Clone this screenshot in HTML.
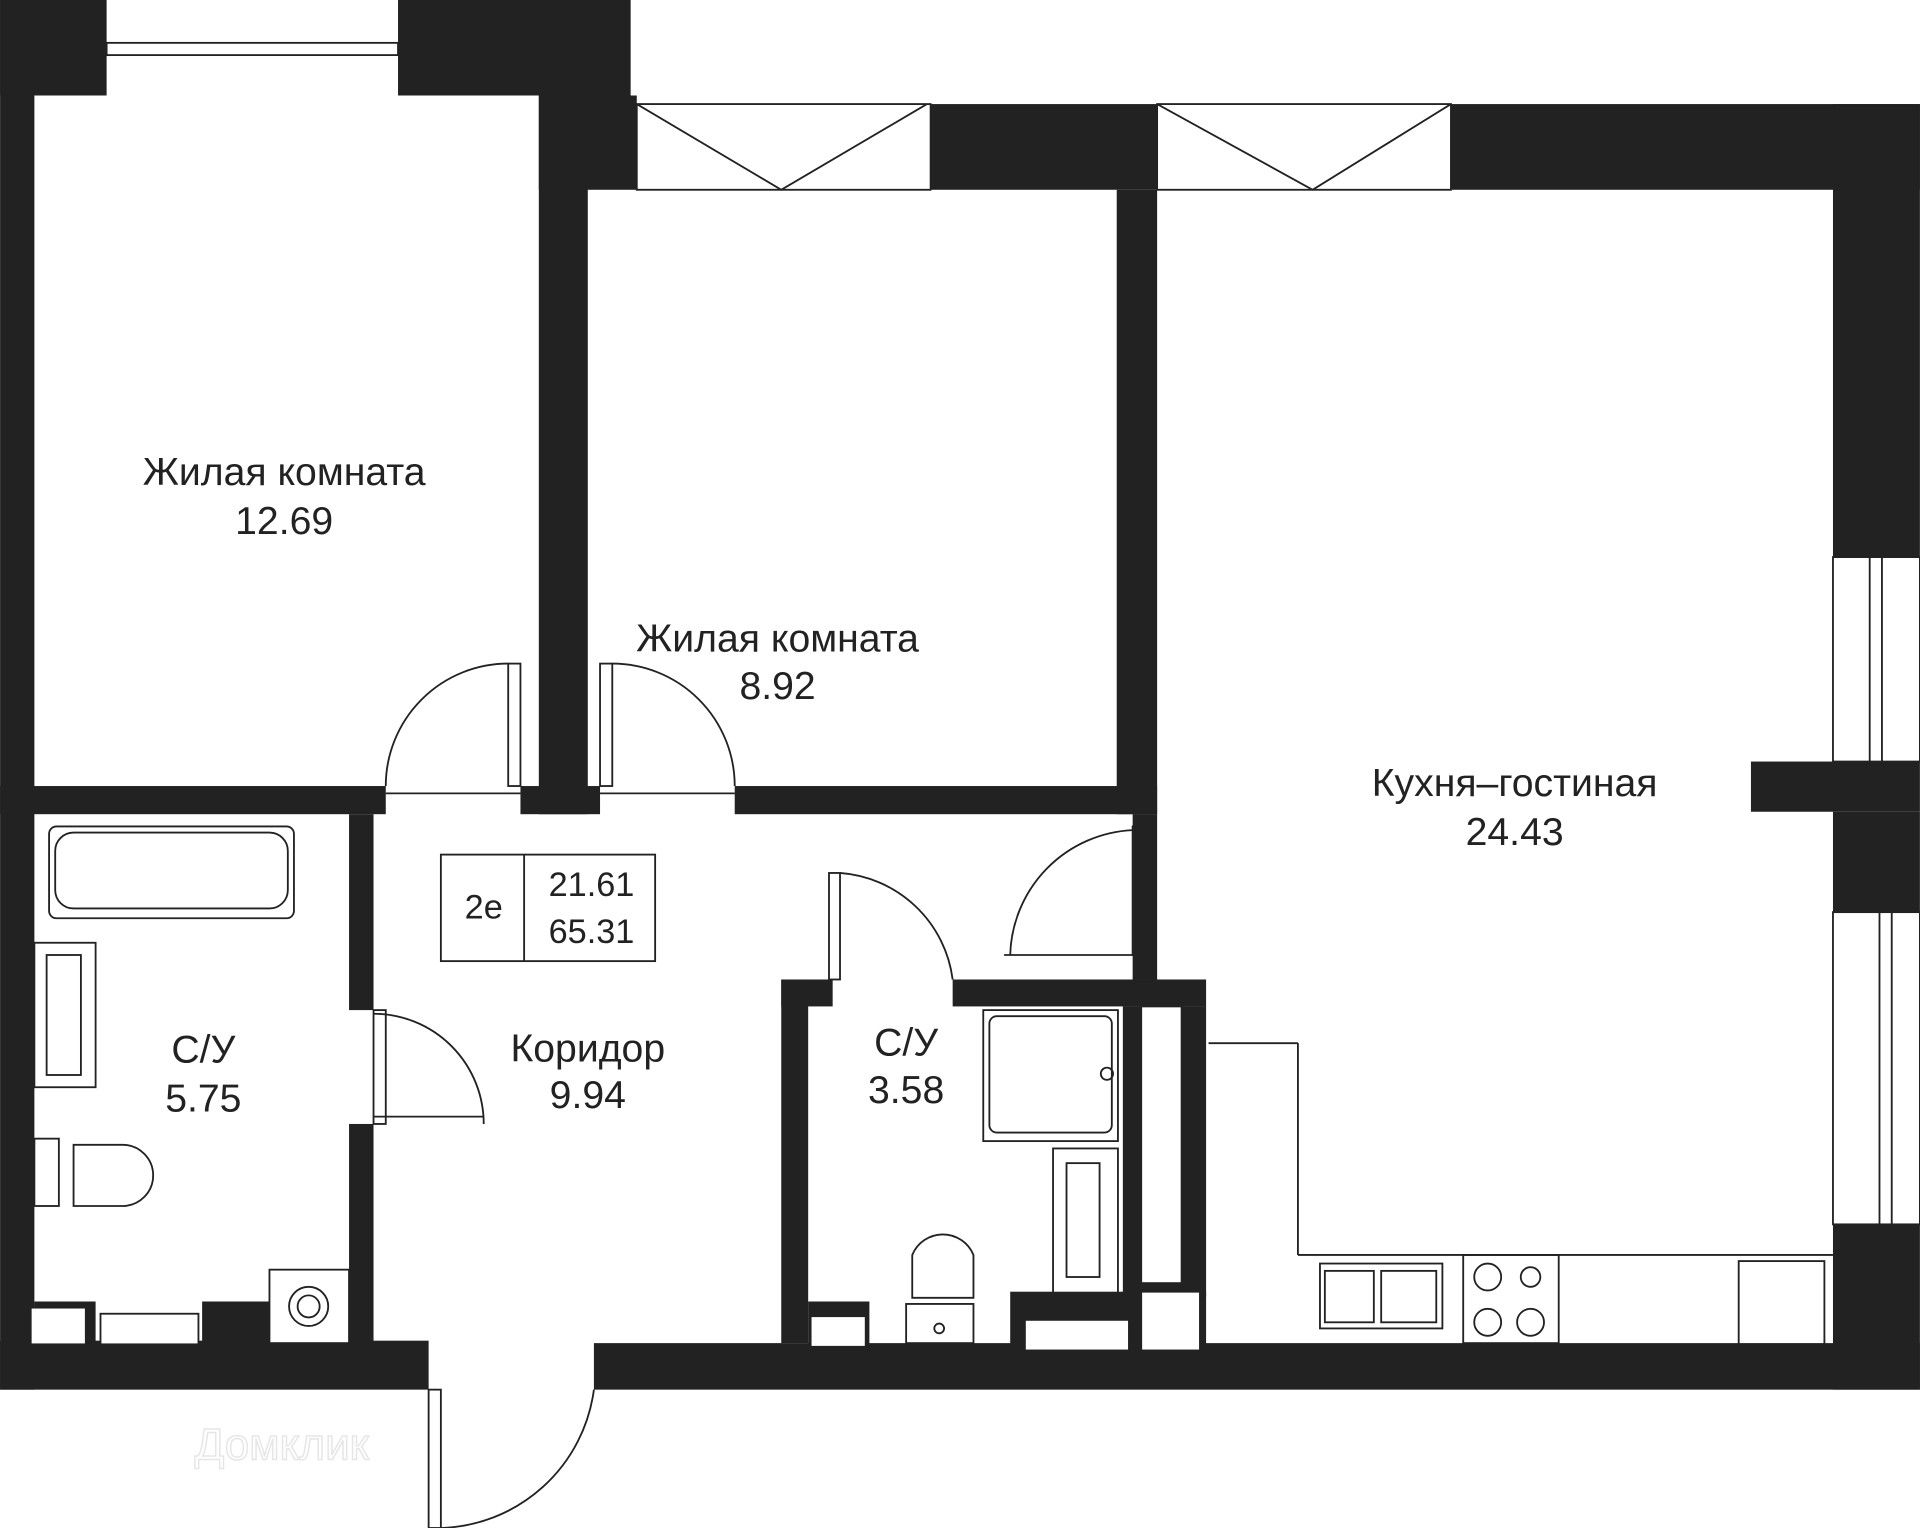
<!DOCTYPE html>
<html><head><meta charset="utf-8"><style>
html,body{margin:0;padding:0;background:#fff;}
svg{display:block;}
text{font-family:"Liberation Sans","DejaVu Sans",sans-serif;fill:#222;font-size:32px;text-anchor:middle;}
</style></head><body>
<svg width="1920" height="1528" viewBox="0 0 1568 1248" xmlns="http://www.w3.org/2000/svg">
<g fill="#222">
<rect x="0" y="0" width="87" height="78"/>
<rect x="325" y="0" width="190" height="78"/>
<rect x="0" y="0" width="28" height="1135"/>
<rect x="440" y="78" width="80" height="77"/>
<rect x="440" y="78" width="40" height="587"/>
<rect x="760" y="85" width="185" height="70"/>
<rect x="1185" y="85" width="383" height="70"/>
<rect x="1497" y="85" width="71" height="370"/>
<rect x="1430" y="622" width="138" height="41"/>
<rect x="1497" y="663" width="71" height="82"/>
<rect x="1497" y="1000" width="71" height="135"/>
<rect x="912" y="155" width="33" height="510"/>
<rect x="925" y="665" width="20" height="135"/>
<rect x="0" y="642" width="315" height="23"/>
<rect x="425" y="642" width="65" height="23"/>
<rect x="600" y="642" width="345" height="23"/>
<rect x="285" y="665" width="20" height="160"/>
<rect x="285" y="918" width="20" height="180"/>
<rect x="0" y="1095" width="350" height="40"/>
<rect x="485" y="1097" width="1083" height="38"/>
<rect x="638" y="800" width="22" height="297"/>
<rect x="638" y="800" width="42" height="22"/>
<rect x="778" y="800" width="207" height="22"/>
<rect x="917" y="822" width="68" height="237"/>
<rect x="825" y="1055" width="160" height="45"/>
<rect x="660" y="1063" width="50" height="35"/>
<rect x="165" y="1063" width="55" height="35"/>
<rect x="28" y="1063" width="50" height="35"/>
</g>
<g fill="#fff" stroke="#222" stroke-width="1.5">
<rect x="932" y="822" width="33" height="226"/>
<rect x="932" y="1055" width="48" height="48"/>
<rect x="837" y="1078" width="85" height="25"/>
<rect x="662" y="1075" width="45" height="25"/>
<rect x="25" y="1068" width="45" height="30"/>
<rect x="82" y="1073" width="80" height="25"/>
<rect x="220" y="1037" width="65" height="60"/>
<rect x="87" y="35" width="238" height="10"/>
<rect x="1497" y="455" width="71" height="167"/>
<rect x="1497" y="745" width="71" height="255"/>
</g>
<g stroke="#222" stroke-width="1.5" fill="none">
<line x1="1527" y1="455" x2="1527" y2="622"/><line x1="1537" y1="455" x2="1537" y2="622"/>
<line x1="1535" y1="745" x2="1535" y2="1000"/><line x1="1545" y1="745" x2="1545" y2="1000"/>
<rect x="520" y="85" width="240" height="70"/><path d="M520 85 L638 155 L757 85"/>
<rect x="945" y="85" width="240" height="70"/><path d="M945 85 L1072 155 L1185 85"/>
<rect x="415" y="542" width="10" height="100"/><path d="M315 642 A100 100 0 0 1 415 542"/><line x1="315" y1="648" x2="425" y2="648"/>
<rect x="490" y="542" width="10" height="100"/><path d="M600 642 A100 100 0 0 0 500 542"/><line x1="490" y1="648" x2="600" y2="648"/>
<rect x="305" y="825" width="10" height="93"/><path d="M395 918 A90 90 0 0 0 305 828"/><line x1="305" y1="912" x2="395" y2="912"/>
<rect x="925" y="675" width="10" height="105"/><path d="M825 780 A105 105 0 0 1 925 678"/><line x1="820" y1="780" x2="925" y2="780"/>
<rect x="677" y="713" width="9" height="87"/><path d="M778 800 A100 100 0 0 0 686 713"/>
<rect x="350" y="1135" width="10" height="113"/><path d="M485 1135 A130 130 0 0 1 360 1248"/>
<rect x="40" y="675" width="200" height="75" rx="6"/><rect x="45" y="680" width="190" height="62" rx="15"/>
<rect x="28" y="770" width="50" height="118"/><rect x="38" y="780" width="28" height="98"/>
<rect x="28" y="930" width="20" height="55"/><path d="M60 935 L100 935 A25 25 0 0 1 100 985 L60 985 Z"/>
<circle cx="252" cy="1067" r="16"/><circle cx="252" cy="1067" r="9"/>
<rect x="803" y="825" width="110" height="107"/><rect x="808" y="830" width="100" height="95" rx="6"/><circle cx="904" cy="877" r="5"/>
<rect x="860" y="938" width="53" height="118"/><rect x="871" y="950" width="27" height="93"/>
<path d="M745 1060 L745 1025 A27 27 0 0 1 795 1025 L795 1060 Z"/><rect x="740" y="1065" width="55" height="32"/><circle cx="767" cy="1085" r="4"/>
<line x1="987" y1="852" x2="1060" y2="852"/><line x1="1060" y1="852" x2="1060" y2="1025"/>
<line x1="1060" y1="1025" x2="1497" y2="1025"/>
<rect x="1078" y="1032" width="100" height="53"/><rect x="1082" y="1038" width="40" height="42"/><rect x="1128" y="1038" width="45" height="42"/>
<rect x="1195" y="1025" width="78" height="72"/>
<circle cx="1215" cy="1043" r="11"/><circle cx="1250" cy="1043" r="8"/><circle cx="1215" cy="1080" r="11"/><circle cx="1250" cy="1080" r="11"/>
<rect x="1420" y="1030" width="70" height="68"/>
<rect x="360" y="698" width="175" height="87"/><line x1="428" y1="698" x2="428" y2="785"/>
</g>
<text x="232" y="396">Жилая комната</text><text x="232" y="436">12.69</text>
<text x="635" y="532">Жилая комната</text><text x="635" y="571">8.92</text>
<text x="1237" y="650">Кухня–гостиная</text><text x="1237" y="690">24.43</text>
<text x="166" y="868">С/У</text><text x="166" y="908">5.75</text>
<text x="480" y="867">Коридор</text><text x="480" y="905">9.94</text>
<text x="740" y="862">С/У</text><text x="740" y="901">3.58</text>
<text x="395" y="750" style="font-size:28px">2е</text><text x="483" y="732" style="font-size:28px">21.61</text><text x="483" y="770" style="font-size:28px">65.31</text>
<text x="230" y="1192" style="fill:none;stroke:#e6e6e6;stroke-width:1.2;font-size:36px">Домклик</text>
</svg>
</body></html>
